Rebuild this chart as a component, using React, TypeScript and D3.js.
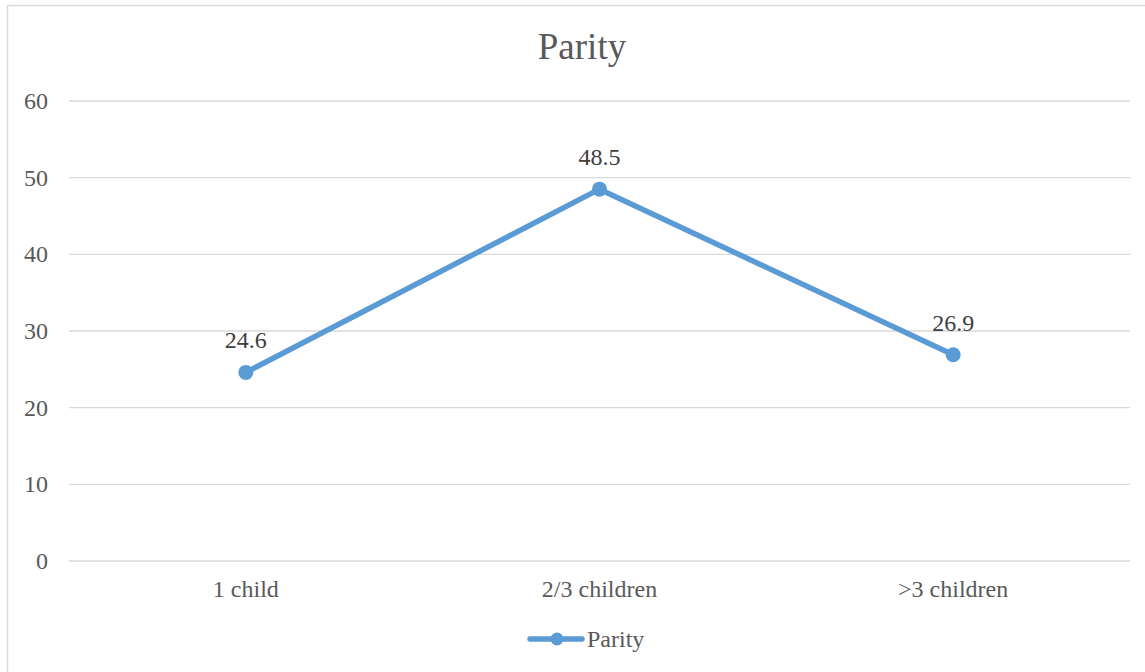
import React from "react";
import * as d3 from "d3";

const categories = ["1 child", "2/3 children", ">3 children"];
const values = [24.6, 48.5, 26.9];
const yTicks = [0, 10, 20, 30, 40, 50, 60];
const seriesName = "Parity";
const title = "Parity";

export default function App() {
  const W = 1145, H = 672;
  const left = 69, right = 1130, top = 101, bottom = 561;
  const x = d3.scaleBand<string>().domain(categories).range([left, right]);
  const y = d3.scaleLinear().domain([0, 60]).range([bottom, top]);
  const cxOf = (i: number) => (x(categories[i]) as number) + x.bandwidth() / 2;
  const line = d3.line<number>()
    .x((_, i) => cxOf(i))
    .y((d) => y(d));
  const blue = "#5B9BD5";
  const font = "'Liberation Serif', 'Times New Roman', serif";
  return (
    <svg width={W} height={H} style={{ position: "fixed", left: 0, top: 0, background: "#fff" }} fontFamily={font}>
      <rect x={0} y={0} width={W} height={H} fill="#fff" />
      <rect x={7.5} y={5.5} width={1200} height={700} fill="#fff" stroke="#d9d9d9" strokeWidth={1.5} />
      <text x={582} y={59} textAnchor="middle" fontSize={37} fill="#595959">{title}</text>
      {yTicks.map((t) => (
        <g key={t}>
          <line x1={left} x2={right} y1={y(t)} y2={y(t)} stroke="#d9d9d9" strokeWidth={1.3} />
          <text x={48} y={y(t) + 8} textAnchor="end" fontSize={24} fill="#595959">{t}</text>
        </g>
      ))}
      {categories.map((c, i) => (
        <text key={c} x={cxOf(i)} y={597} textAnchor="middle" fontSize={24} fill="#595959">{c}</text>
      ))}
      <path d={line(values) || ""} fill="none" stroke={blue} strokeWidth={5.5} strokeLinejoin="round" strokeLinecap="round" />
      {values.map((v, i) => (
        <g key={i}>
          <circle cx={cxOf(i)} cy={y(v)} r={7.5} fill={blue} />
          <text x={cxOf(i)} y={y(v) - 24} textAnchor="middle" fontSize={24} fill="#404040">{v.toFixed(1)}</text>
        </g>
      ))}
      <g>
        <line x1={530} x2={582} y1={639} y2={639} stroke={blue} strokeWidth={5.5} strokeLinecap="round" />
        <circle cx={557} cy={639} r={6.5} fill={blue} />
        <text x={587} y={647} fontSize={24} fill="#595959">{seriesName}</text>
      </g>
    </svg>
  );
}
